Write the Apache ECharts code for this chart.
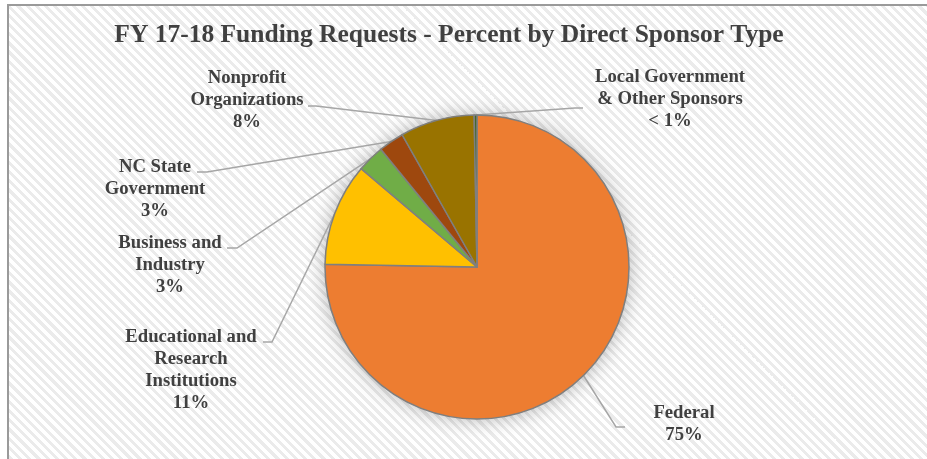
<!DOCTYPE html>
<html>
<head>
<meta charset="utf-8">
<script src="https://cdn.jsdelivr.net/npm/echarts@6/dist/echarts.min.js"></script>
<style>
html,body{margin:0;padding:0;background:#fff;width:927px;height:459px;overflow:hidden;}
#frame{position:absolute;left:7px;top:4px;width:1000px;height:1000px;border-left:2px solid #9a9a9a;border-top:2px solid #9a9a9a;
background:repeating-linear-gradient(45deg,#ffffff 0px,#ffffff 3.5px,#ebebeb 3.5px,#ebebeb 6.5px);}
#chart{position:absolute;left:0;top:0;width:927px;height:459px;}
</style>
</head>
<body>
<div id="frame"></div>
<div id="chart"></div>
<script>
// ---- data ----
const titleText = 'FY 17-18 Funding Requests - Percent by Direct Sponsor Type';
const categories = ['Federal', 'Educational and\nResearch\nInstitutions', 'Business and\nIndustry', 'NC State\nGovernment', 'Nonprofit\nOrganizations', 'Local Government\n& Other Sponsors'];
const values = [75.3, 10.9, 2.9, 2.7, 7.9, 0.3];
const pctLabels = ['75%', '11%', '3%', '3%', '8%', '< 1%'];
const colors = ['#ED7D31', '#FFC000', '#70AD47', '#9E480E', '#997300', '#43682B'];

// ---- label layout (positions only) ----
const labelPos = [[684, 424], [191, 370], [170, 265], [155, 189], [247, 100], [670, 99]];
const lineEnds = [[[616, 427], [625, 427]], [[272, 342], [263, 342]], [[237, 248], [227, 248]], [[207, 172], [197, 172]], [[316, 106], [308, 106]], [[575, 108], [583, 108]]];

const chart = echarts.init(document.getElementById('chart'), null, {renderer: 'canvas'});
const pieData = categories.map((c, i) => ({name: c, value: values[i], itemStyle: {color: colors[i]}}));

chart.setOption({
  backgroundColor: 'transparent',
  animation: false,
  title: {
    text: titleText,
    left: 444, top: 17, textAlign: 'center',
    textStyle: {fontFamily: 'Liberation Serif', fontWeight: 'bold', fontSize: 25.5, color: '#404040'}
  },
  series: [
    {
      type: 'pie', silent: true, z: 1,
      center: [477, 267], radius: 152, startAngle: 90, clockwise: true,
      label: {show: false}, labelLine: {show: false},
      itemStyle: {shadowBlur: 20, shadowColor: 'rgba(0,0,0,0.3)', borderWidth: 0},
      data: pieData
    },
    {
      type: 'pie', z: 2,
      center: [477, 267], radius: 152, startAngle: 90, clockwise: true,
      avoidLabelOverlap: false,
      itemStyle: {borderColor: '#7f7f7f', borderWidth: 1.5},
      label: {
        show: true, position: 'outside',
        fontFamily: 'Liberation Serif', fontWeight: 'bold', fontSize: 18.7, lineHeight: 22,
        color: '#404040', align: 'center',
        formatter: p => p.name + '\n' + pctLabels[p.dataIndex]
      },
      labelLine: {show: true, smooth: false, length: 10, length2: 10, lineStyle: {color: '#a6a6a6', width: 1.5}},
      labelLayout: function (params) {
        const i = params.dataIndex;
        const res = {x: labelPos[i][0], y: labelPos[i][1], align: 'center', verticalAlign: 'middle'};
        if (params.labelLinePoints && params.labelLinePoints.length) {
          res.labelLinePoints = [params.labelLinePoints[0], lineEnds[i][0], lineEnds[i][1]];
        }
        return res;
      },
      data: pieData
    }
  ]
});
</script>
</body>
</html>
